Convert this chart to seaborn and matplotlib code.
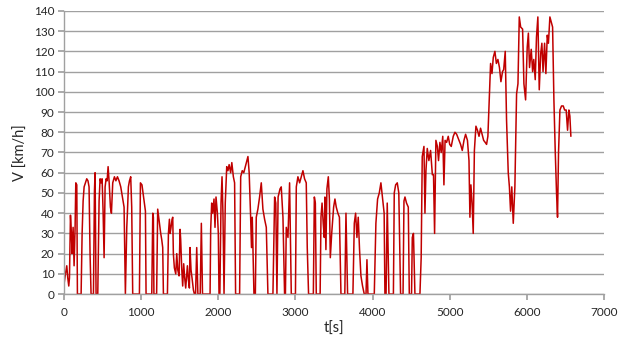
import pandas as pd
import matplotlib
matplotlib.use("Agg")
import matplotlib.pyplot as plt
import seaborn as sns

sns.set_theme(style="white")
plt.rcParams['font.family'] = ['Lato', 'DejaVu Sans']

# speed trace in blocks of roughly 1000 s
t_a = [0, 18, 35, 48, 61, 70, 83, 95, 104, 117, 130, 143, 152, 165, 173, 221, 234, 247, 260, 277,
       294, 310, 324, 337, 350, 381, 394, 402, 415, 437, 454, 467, 480, 493, 506, 519, 532, 545, 558, 571,
       585, 601, 614, 631, 653, 672, 692, 713, 735, 757, 778, 795, 813, 821, 834, 848, 864, 877, 890, 977, 990]
v_a = [5, 10, 14, 8, 4, 8, 39, 30, 20, 33, 14, 33, 55, 54, 0, 0, 30, 46, 53, 55,
       57, 56, 53, 20, 0, 0, 51, 60, 0, 0, 46, 57, 55, 57, 41, 18, 53, 57, 56, 63,
       55, 43, 40, 55, 58, 56, 58, 56, 53, 48, 43, 0, 33, 40, 53, 56, 58, 43, 0, 0, 55]

t_b = [1010, 1037, 1055, 1063, 1137, 1150, 1158, 1165, 1200, 1214, 1233, 1253, 1266, 1279, 1288, 1340,
       1353, 1366, 1375, 1387, 1400, 1409, 1417, 1430, 1448, 1461, 1474, 1491, 1504, 1512, 1525, 1538,
       1551, 1564, 1577, 1599, 1612, 1625, 1633, 1646, 1659, 1677, 1690, 1705, 1720, 1735, 1765, 1780,
       1795, 1893, 1901, 1914, 1927, 1944, 1957, 1970, 1988, 2000, 2009]
v_b = [54, 46, 41, 0, 0, 40, 38, 0, 0, 42, 36, 30, 27, 23, 0, 0,
       30, 37, 30, 33, 37, 38, 20, 13, 10, 20, 12, 9, 32, 27, 13, 4,
       15, 8, 3, 14, 7, 3, 23, 12, 8, 2, 0, 0, 23, 0, 0, 35,
       0, 0, 32, 45, 40, 47, 33, 48, 40, 30, 0]

t_c = [2020, 2035, 2048, 2060, 2074, 2090, 2109, 2125, 2140, 2160, 2175, 2195, 2211, 2224, 2276, 2290,
       2310, 2330, 2350, 2363, 2384, 2400, 2419, 2430, 2440, 2449, 2462, 2480, 2492, 2513, 2535, 2557,
       2578, 2600, 2622, 2643, 2708, 2730, 2745, 2760, 2775, 2800, 2816, 2838, 2859, 2870, 2881, 2903,
       2924, 2946, 3000]
v_c = [0, 45, 58, 40, 0, 45, 63, 61, 64, 60, 65, 58, 55, 0, 0, 58,
       61, 60, 63, 65, 68, 60, 38, 23, 38, 22, 0, 0, 38, 42, 48, 55,
       42, 37, 33, 0, 0, 48, 45, 0, 48, 52, 53, 38, 0, 0, 33, 28,
       55, 0, 0]

t_d = [3011, 3032, 3054, 3075, 3097, 3118, 3140, 3153, 3170, 3232, 3245, 3258, 3270, 3320, 3331, 3345,
       3360, 3374, 3382, 3395, 3408, 3426, 3440, 3452, 3470, 3495, 3512, 3529, 3550, 3570, 3590, 3640,
       3655, 3676, 3745, 3763, 3780, 3797, 3814, 3831, 3849, 3870, 3892, 3915, 3927, 3940, 4022]
v_d = [53, 58, 55, 58, 61, 57, 55, 23, 0, 0, 48, 45, 0, 0, 38, 45,
       35, 28, 48, 22, 52, 58, 47, 18, 30, 43, 47, 43, 40, 38, 0, 0,
       40, 0, 0, 35, 40, 28, 38, 22, 9, 4, 0, 0, 17, 0, 0]

t_e = [4043, 4065, 4087, 4108, 4130, 4150, 4160, 4175, 4190, 4212, 4270, 4281, 4299, 4320, 4340, 4363,
       4395, 4407, 4420, 4440, 4463, 4476, 4505, 4515, 4530, 4549, 4614, 4630]
v_e = [35, 47, 50, 55, 47, 40, 0, 0, 45, 0, 0, 50, 54, 55, 50, 0,
       0, 46, 48, 45, 43, 0, 0, 28, 30, 0, 0, 18]

t_f = [4644, 4666, 4679, 4692, 4709, 4730, 4752, 4775, 4790, 4804, 4821, 4840, 4855, 4873, 4890, 4910,
       4925, 4940, 4960, 4981, 5000, 5020, 5046, 5068, 5090, 5110, 5141, 5163, 5185, 5206, 5230, 5250,
       5262, 5275, 5290, 5305, 5320, 5340, 5360, 5380, 5400, 5420, 5440, 5460, 5478, 5495, 5513, 5530,
       5548, 5565, 5586, 5605, 5625, 5645, 5664, 5685, 5700, 5720, 5737, 5759, 5774, 5789, 5805, 5824,
       5845, 5867, 5885, 5902, 5920, 5945, 5962, 5984, 6005, 6020, 6035, 6057, 6075, 6090, 6109, 6125,
       6143, 6161, 6180, 6195, 6210, 6230, 6247, 6265, 6280, 6299, 6320, 6334, 6351, 6368, 6385, 6398,
       6411, 6429, 6450, 6472, 6490, 6510, 6528, 6545, 6558, 6571]
v_f = [68, 73, 40, 61, 72, 66, 71, 59, 59, 30, 76, 73, 66, 75, 70, 78,
       54, 76, 75, 78, 74, 73, 78, 80, 79, 77, 74, 71, 76, 79, 76, 66,
       38, 54, 45, 30, 71, 83, 81, 78, 82, 79, 76, 75, 74, 78, 96, 114,
       109, 117, 120, 114, 116, 112, 105, 110, 111, 120, 86, 60, 53, 41, 53, 35,
       53, 99, 104, 137, 132, 131, 104, 96, 122, 129, 112, 121, 110, 116, 106, 127,
       137, 101, 119, 124, 110, 124, 109, 128, 124, 137, 134, 132, 96, 71, 50, 38,
       70, 91, 93, 93, 91, 91, 81, 91, 88, 78]

x_ticks = [0, 1000, 2000, 3000, 4000, 5000, 6000, 7000]
y_ticks = list(range(0, 141, 10))

df = pd.DataFrame({
    't': t_a + t_b + t_c + t_d + t_e + t_f,
    'v': v_a + v_b + v_c + v_d + v_e + v_f,
})

fig, ax = plt.subplots(figsize=(6.22, 3.40), dpi=100)
fig.subplots_adjust(left=0.103, right=0.971, bottom=0.135, top=0.968)

sns.lineplot(data=df, x='t', y='v', ax=ax, color='#C00000', linewidth=1.1,
             estimator=None, sort=False)

grey = '#A0A0A0'
ax.set_xlim(0, 7000)
ax.set_ylim(0, 140)
ax.set_xticks(x_ticks)
ax.set_yticks(y_ticks)
ax.yaxis.grid(True, color=grey, linewidth=1.0)
ax.xaxis.grid(False)
ax.set_axisbelow(True)
for side in ['top', 'right']:
    ax.spines[side].set_visible(False)
for side in ['left', 'bottom']:
    ax.spines[side].set_color(grey)
    ax.spines[side].set_linewidth(1.0)
ax.tick_params(axis='x', bottom=True, direction='out', length=4, color=grey,
               labelsize=8.5, labelcolor='#262626', pad=5)
ax.tick_params(axis='y', left=True, direction='out', length=4, color=grey,
               labelsize=8.5, labelcolor='#262626', pad=3)

ax.set_xlabel('t[s]', fontsize=10.5, color='#262626', labelpad=3)
ax.set_ylabel('V [km/h]', fontsize=10.5, color='#262626', labelpad=4)

plt.savefig('out.png', dpi=100)
plt.close()
